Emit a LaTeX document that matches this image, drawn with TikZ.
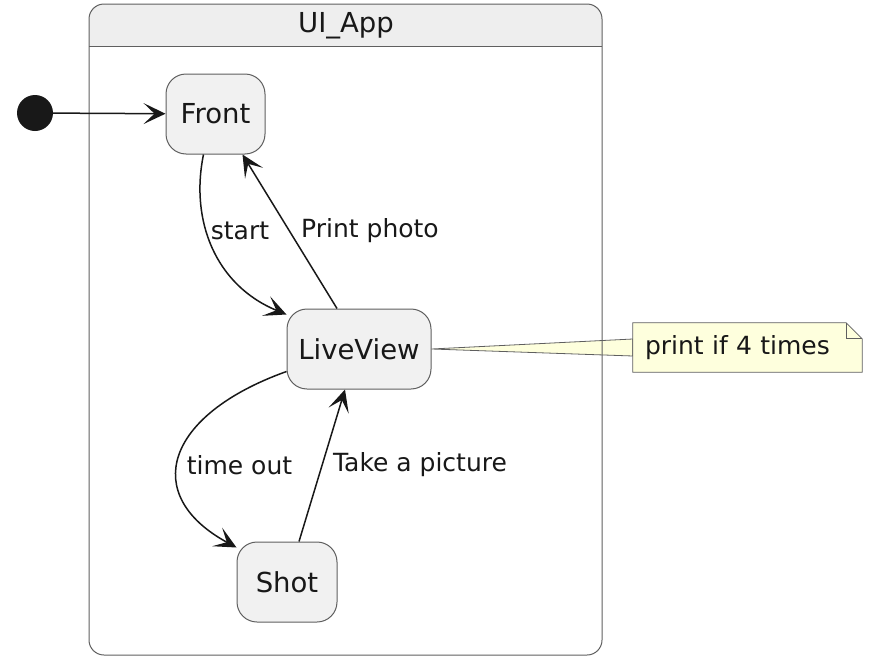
\documentclass[tikz,border=0pt]{standalone}
\usepackage{fontspec}
\setmainfont{DejaVu Sans}
\usetikzlibrary{arrows.meta}
\pgfdeclarelayer{bg}
\pgfsetlayers{bg,main}
\definecolor{statefill}{HTML}{F1F1F1}
\definecolor{stateline}{HTML}{5F5F5F}
\definecolor{titlefill}{HTML}{EEEEEE}
\definecolor{notefill}{HTML}{FEFFDD}
\definecolor{ink}{HTML}{181818}
\begin{document}
\begin{tikzpicture}[x=1pt,y=-1pt,
  state/.style={draw=stateline, fill=statefill, rounded corners=20pt, line width=1pt,
    minimum height=80pt, inner sep=0pt, font=\fontsize{27.5}{30}\selectfont, text=ink},
  lbl/.style={font=\fontsize{25}{28}\selectfont, text=ink, inner sep=0pt},
  arr/.style={draw=ink, line width=1.5pt, -{Stealth[length=22pt,width=21pt,inset=11pt]}},
]
\useasboundingbox (0,0) rectangle (871,656);
% container
\begin{scope}
  \clip[rounded corners=15pt] (89,4) rectangle (602,655);
  \fill[titlefill] (89,4) rectangle (602,46);
\end{scope}
\draw[stateline, line width=1pt, rounded corners=15pt] (89,4) rectangle (602,655);
\draw[stateline, line width=1pt] (89,46) -- (602,46);
\node[font=\fontsize{27.5}{30}\selectfont, text=ink, inner sep=0pt] (title) at (346,26) {UI\_App};

% states
\node[circle, fill=ink, minimum size=36pt, inner sep=0pt] (init) at (35,113) {};
\node[state, minimum width=99pt] (front) at (215.5,114) {Front};
\node[state, minimum width=144pt] (live) at (359,349) {LiveView};
\node[state, minimum width=100pt] (shot) at (287,582) {Shot};

% transitions
\draw[arr] (init) -- (front);
\draw[arr] ([xshift=-12pt]front.south) .. controls (190,220) and (215,285) .. ([shift={(0,6)}]live.north west)
  node[lbl] at (240,231) {start};
\draw[arr] ([xshift=-22pt]live.north) -- ([xshift=27pt]front.south)
  node[lbl] at (370,231) {Print photo};
\draw[arr] ([shift={(0,-18)}]live.south west) .. controls (165,415) and (140,495) .. ([shift={(0,6)}]shot.north west)
  node[lbl] at (239.5,465) {time out};
\draw[arr] ([xshift=12pt]shot.north) -- ([xshift=-14pt]live.south)
  node[lbl] at (420,465) {Take a picture};

% note
\node[lbl, text width=205pt, align=left, inner xsep=12pt, inner ysep=0pt, minimum height=49pt] (note) at (747.5,347.5) {print if 4 times};
\begin{pgfonlayer}{bg}
  \draw[stateline, line width=0.8pt, fill=notefill] (live.east) -- ([shift={(0,-8.5)}]note.west) -- ([shift={(0,8.5)}]note.west) -- cycle;
  \draw[stateline, line width=0.8pt, fill=notefill] (note.north west) -- ([xshift=-16pt]note.north east) -- ([shift={(0,16)}]note.north east) -- (note.south east) -- (note.south west) -- cycle;
  \draw[stateline, line width=0.8pt] ([xshift=-16pt]note.north east) -- ([shift={(-16,16)}]note.north east) -- ([shift={(0,16)}]note.north east);
\end{pgfonlayer}
\end{tikzpicture}
\end{document}
